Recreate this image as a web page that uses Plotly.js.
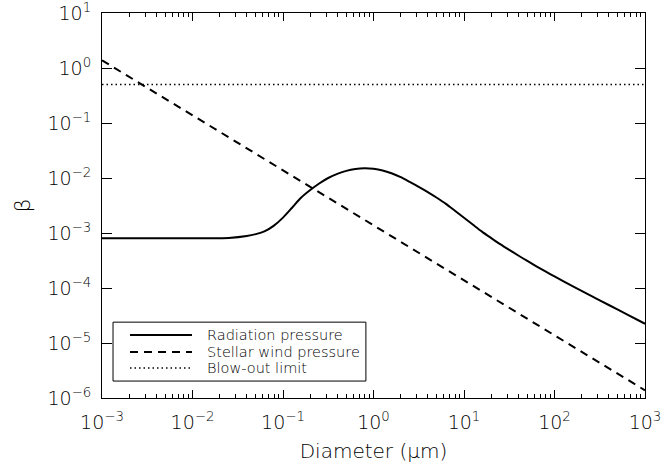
<!DOCTYPE html>
<html>
<head>
<meta charset="utf-8">
<script src="https://cdn.plot.ly/plotly-3.0.1.min.js"></script>
<style>
  html, body { margin: 0; padding: 0; background: #fff; }
  #chart { width: 664px; height: 463px; }
</style>
</head>
<body>
<div id="chart"></div>
<script>
// Grain diameter (micron) and beta for radiation pressure
const radDiameter = [0.001, 0.01, 0.0158, 0.0251, 0.0398, 0.0501, 0.0631, 0.0794, 0.1, 0.126, 0.158, 0.2, 0.251, 0.316, 0.398, 0.501, 0.631, 0.794, 1, 1.26, 1.58, 2.0, 2.51, 3.16, 3.98, 5.01, 6.31, 7.94, 10, 12.6, 15.8, 20, 25.1, 31.6, 39.8, 50.1, 63.1, 79.4, 100, 158, 251, 398, 631, 1000];
const radBeta     = [8.0e-4, 8.0e-4, 8.0e-4, 8.13e-4, 8.81e-4, 9.55e-4, 1.084e-3, 1.365e-3, 1.905e-3, 2.88e-3, 4.37e-3, 6.03e-3, 7.94e-3, 1.0e-2, 1.186e-2, 1.346e-2, 1.455e-2, 1.50e-2, 1.469e-2, 1.374e-2, 1.222e-2, 1.035e-2, 8.51e-3, 6.92e-3, 5.56e-3, 4.37e-3, 3.39e-3, 2.54e-3, 1.892e-3, 1.409e-3, 1.059e-3, 8.09e-4, 6.28e-4, 4.93e-4, 3.90e-4, 3.10e-4, 2.48e-4, 2.00e-4, 1.62e-4, 1.08e-4, 7.26e-5, 4.91e-5, 3.32e-5, 2.24e-5];

// Stellar wind pressure
const windDiameter = [0.001, 0.01, 0.1, 1, 10, 100, 1000];
const windBeta     = [1.38, 0.138, 0.0138, 1.38e-3, 1.38e-4, 1.38e-5, 1.38e-6];

// Blow-out limit
const blowDiameter = [0.001, 1000];
const blowBeta     = [0.5, 0.5];

const seriesNames = ['Radiation pressure', 'Stellar wind pressure', 'Blow-out limit'];

// Tick labels
const xTickVals = [1e-3, 1e-2, 1e-1, 1e0, 1e1, 1e2, 1e3];
const xTickText = ['10<sup>\u22123</sup>', '10<sup>\u22122</sup>', '10<sup>\u22121</sup>', '10<sup>0</sup>', '10<sup>1</sup>', '10<sup>2</sup>', '10<sup>3</sup>'];
const yTickVals = [1e-6, 1e-5, 1e-4, 1e-3, 1e-2, 1e-1, 1e0, 1e1];
const yTickText = ['10<sup>\u22126</sup>', '10<sup>\u22125</sup>', '10<sup>\u22124</sup>', '10<sup>\u22123</sup>', '10<sup>\u22122</sup>', '10<sup>\u22121</sup>', '10<sup>0</sup>', '10<sup>1</sup>'];

const xMinor = [];
for (let e = -3; e < 3; e++) {
  for (let m = 2; m <= 9; m++) xMinor.push(m * Math.pow(10, e));
}

const FONT = 'DejaVu Sans, Liberation Sans, sans-serif';
const W = 300;

const styles = [
  { color: 'black', width: 2, dash: 'solid' },
  { color: 'black', width: 2, dash: '8px,6px' },
  { color: 'black', width: 1.5, dash: '1.5px,3px' }
];

const traces = [
  { x: radDiameter, y: radBeta, type: 'scatter', mode: 'lines', name: seriesNames[0],
    line: Object.assign({ shape: 'spline', smoothing: 0.8 }, styles[0]) },
  { x: windDiameter, y: windBeta, type: 'scatter', mode: 'lines', name: seriesNames[1],
    line: styles[1] },
  { x: blowDiameter, y: blowBeta, type: 'scatter', mode: 'lines', name: seriesNames[2],
    line: styles[2] }
];

// Legend drawn as a box in paper coordinates (plot area: 543 x 385 px)
const legBox = { x0: 0.0203, x1: 0.486, y0: 0.044, y1: 0.197 };
const legRows = [0.1636, 0.1195, 0.0779];
const legSample = { x0: 0.0516, x1: 0.1657 };
const legTextX = 0.1897;

const shapes = [
  { type: 'rect', xref: 'paper', yref: 'paper', x0: legBox.x0, x1: legBox.x1, y0: legBox.y0, y1: legBox.y1,
    line: { color: 'black', width: 1 }, fillcolor: 'white', layer: 'above' }
];
const annotations = [];
seriesNames.forEach((name, i) => {
  shapes.push({ type: 'line', xref: 'paper', yref: 'paper', x0: legSample.x0, x1: legSample.x1,
    y0: legRows[i], y1: legRows[i], line: styles[i], layer: 'above' });
  annotations.push({ xref: 'paper', yref: 'paper', x: legTextX, y: legRows[i], xanchor: 'left', yanchor: 'middle',
    text: name, showarrow: false, font: { family: FONT, size: 14.5, color: 'black', weight: W } });
});

const layout = {
  width: 664, height: 463,
  margin: { l: 102, r: 19, t: 13, b: 65, pad: 0 },
  paper_bgcolor: 'white', plot_bgcolor: 'white',
  font: { family: FONT, color: 'black', size: 19, weight: W },
  showlegend: false,
  shapes: shapes,
  annotations: annotations,
  xaxis: {
    type: 'log', range: [-3, 3], autorange: false,
    showline: true, linecolor: 'black', linewidth: 1, mirror: 'ticks',
    showgrid: false, zeroline: false,
    ticks: 'inside', ticklen: 8, tickwidth: 1, tickcolor: 'black',
    tickmode: 'array', tickvals: xTickVals, ticktext: xTickText,
    tickfont: { family: FONT, size: 19, color: 'black', weight: W },
    ticklabelstandoff: 7, ticklabeloverflow: 'allow',
    minor: { tickmode: 'array', tickvals: xMinor, ticks: 'inside', ticklen: 4, tickwidth: 1, tickcolor: 'black', showgrid: false },
    title: { text: 'Diameter (\u03bcm)', font: { family: FONT, size: 20, color: 'black', weight: W }, standoff: 13 }
  },
  yaxis: {
    type: 'log', range: [-6, 1], autorange: false,
    showline: true, linecolor: 'black', linewidth: 1, mirror: 'ticks',
    showgrid: false, zeroline: false,
    ticks: 'inside', ticklen: 10, tickwidth: 1, tickcolor: 'black',
    tickmode: 'array', tickvals: yTickVals, ticktext: yTickText,
    tickfont: { family: FONT, size: 19, color: 'black', weight: W },
    ticklabelstandoff: 6, ticklabeloverflow: 'allow',
    title: { text: '\u03b2', font: { family: FONT, size: 22, color: 'black', weight: W }, standoff: 10 }
  }
};

Plotly.newPlot('chart', traces, layout, { staticPlot: true, displayModeBar: false });
</script>
</body>
</html>
